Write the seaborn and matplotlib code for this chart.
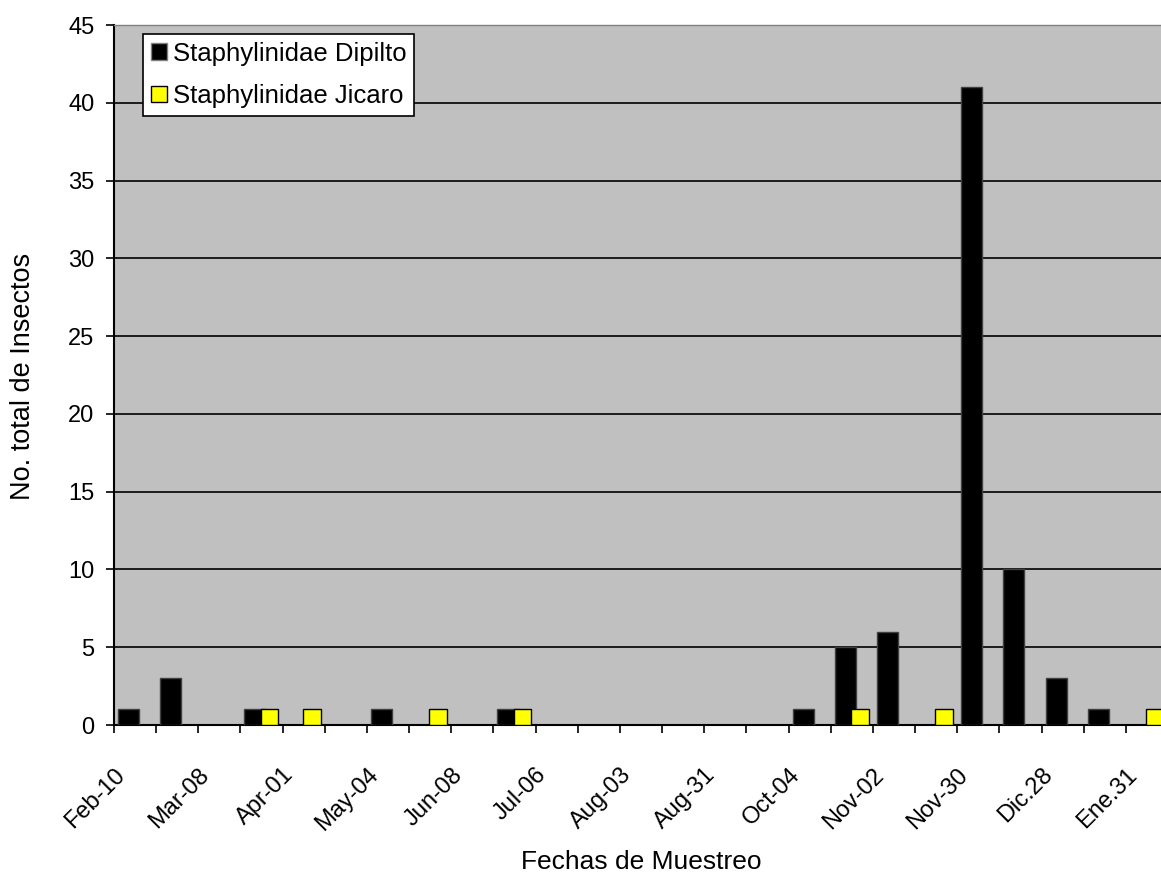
import numpy as np
import pandas as pd
import matplotlib
matplotlib.use("Agg")
import matplotlib.pyplot as plt
import matplotlib.transforms as mtransforms
from matplotlib.patches import Patch
import seaborn as sns

# ---- data ----
n_categories = 25
dipilto = [1, 3, 0, 1, 0, 0, 1, 0, 0, 1, 0, 0, 0, 0, 0, 0, 1, 5, 6, 0, 41, 10, 3, 1, 0]
jicaro  = [0, 0, 0, 1, 1, 0, 0, 1, 0, 1, 0, 0, 0, 0, 0, 0, 0, 1, 0, 1, 0, 0, 0, 0, 1]
series_names = ["Staphylinidae Dipilto", "Staphylinidae Jicaro"]
tick_labels = ["Feb-10", "Mar-08", "Apr-01", "May-04", "Jun-08", "Jul-06", "Aug-03",
               "Aug-31", "Oct-04", "Nov-02", "Nov-30", "Dic.28", "Ene.31"]
y_ticks = [0, 5, 10, 15, 20, 25, 30, 35, 40, 45]

colors = ["#000000", "#FFFF00"]
edge_colors = ["#404040", "#000000"]

df = pd.DataFrame({
    "cat": list(range(n_categories)) * 2,
    "serie": [series_names[0]] * n_categories + [series_names[1]] * n_categories,
    "valor": dipilto + jicaro,
})

sns.set_theme(style="white")
plt.rcParams['font.family'] = ['Liberation Sans', 'DejaVu Sans']
plt.rcParams.update({"text.color": "black", "axes.labelcolor": "black",
                     "xtick.color": "black", "ytick.color": "black"})

W, H = 1161, 873
fig = plt.figure(figsize=(W / 100, H / 100), dpi=100)
ax = fig.add_axes([114 / W, 1 - 725 / H, (1168 - 114) / W, 700 / H])

sns.barplot(data=df, x="cat", y="valor", hue="serie", order=list(range(n_categories)),
            hue_order=series_names, palette=colors, ax=ax, legend=False,
            saturation=1, width=0.8, errorbar=None)

# Excel-like bar geometry: black bar wider, yellow bar overlapping on the right
geom = [(0.095, 0.50), (0.48, 0.42)]
for k, cont in enumerate(ax.containers):
    off, w = geom[k]
    for i, p in enumerate(cont.patches):
        p.set_x(i - 0.5 + off)
        p.set_width(w)
        p.set_edgecolor(edge_colors[k])
        p.set_linewidth(1.0)
        p.set_zorder(3 + k)
        if p.get_height() == 0:
            p.set_visible(False)

ax.set_facecolor("#C0C0C0")
ax.set_xlim(-0.5, n_categories - 0.5)
ax.set_ylim(0, 45)
ax.set_yticks(y_ticks)
ax.set_yticklabels([str(v) for v in y_ticks], fontsize=17)
ax.yaxis.grid(True, color="black", linewidth=1.2, zorder=1)
ax.set_axisbelow(True)

bounds = np.arange(n_categories + 1) - 0.5
ax.set_xticks(bounds)
labels = [""] * len(bounds)
for j, lab in enumerate(tick_labels):
    labels[2 * j] = lab
ax.set_xticklabels(labels, rotation=45, ha="right", va="top",
                   rotation_mode="anchor", fontsize=17)
offset = mtransforms.ScaledTranslation(5 / 100, 0, fig.dpi_scale_trans)
for t in ax.get_xticklabels():
    t.set_transform(t.get_transform() + offset)

ax.tick_params(axis="both", direction="out", length=6, width=1.2, color="black",
               bottom=True, left=True, labelcolor="black")
ax.tick_params(axis="x", pad=22)
ax.tick_params(axis="y", pad=8)

for s in ["left", "bottom"]:
    ax.spines[s].set_color("black")
    ax.spines[s].set_linewidth(1.5)
ax.spines["top"].set_color("#808080")
ax.spines["top"].set_linewidth(1.0)
ax.spines["right"].set_visible(False)

ax.set_xlabel("")
ax.set_ylabel("")
fig.text(641 / W, 1 - 862 / H, "Fechas de Muestreo", ha="center", va="center",
         fontsize=19, color="black")
fig.text(23 / W, 1 - 376 / H, "No. total de Insectos", ha="center", va="center",
         rotation=90, fontsize=19.5, color="black")

handles = [Patch(facecolor=colors[0], edgecolor="#808080", linewidth=1.0),
           Patch(facecolor=colors[1], edgecolor="black", linewidth=1.0)]
leg = fig.legend(handles, series_names, loc="upper left",
                 bbox_to_anchor=(143 / W, 1 - 34 / H), fontsize=18.5,
                 frameon=True, fancybox=False, framealpha=1, edgecolor="black",
                 handlelength=0.62, handleheight=0.62, handletextpad=0.25,
                 borderpad=0.3, labelspacing=0.72, borderaxespad=0)
leg.get_frame().set_linewidth(1.2)
for t in leg.get_texts():
    t.set_color("black")

fig.savefig("out.png", dpi=100)
